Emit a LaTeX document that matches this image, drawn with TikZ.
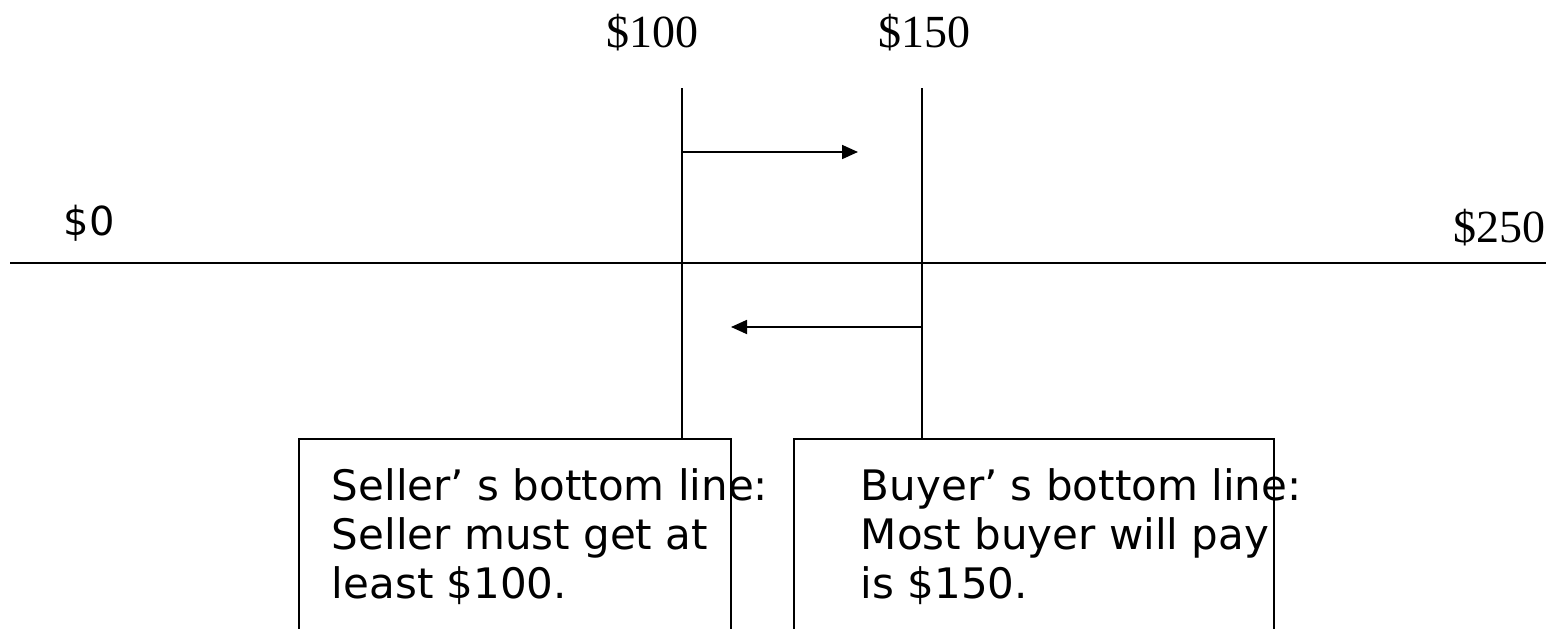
\documentclass[tikz,border=0pt]{standalone}
\usepackage{fontspec}
\setmainfont{Liberation Serif}
\newfontfamily\boxfont{DejaVu Sans}
\usepackage{tikz}
\usetikzlibrary{arrows.meta, positioning}

\tikzset{
  price/.style={font=\fontsize{46}{50}\selectfont, inner sep=0pt},
  boxtext/.style={font=\boxfont\fontsize{42}{49}\selectfont, align=left, inner sep=0pt, anchor=north west},
  limitbox/.style={draw, line width=1.8pt, minimum height=300pt, inner sep=0pt, anchor=north west},
}

\begin{document}
\begin{tikzpicture}[x=1pt,y=-1pt,line width=1.8pt,>={Triangle[length=16pt,width=14pt]}]
  \useasboundingbox (0,0) rectangle (1558,629);
  \clip (0,0) rectangle (1558,629);
%%
  % Node: prices
  \node[price, anchor=base] (p100) at (652,47) {\$100};
  \node[price, anchor=base] (p150) at (924,47) {\$150};
  \node[price, anchor=base west] (p250) at (1453,242) {\$250};
  \node[inner sep=0pt, anchor=base west, font=\boxfont\fontsize{40}{44}\selectfont] (p0) at (63,235) {\$0};
  % Node: boxes
  \node[limitbox, minimum width=432pt] (seller) at (298,438) {};
  \node[limitbox, minimum width=480pt] (buyer) at (793,438) {};
  \node[boxtext] (sellertext) at (331,468) {Seller’ s bottom line:\\Seller must get at\\least \$100.};
  \node[boxtext] (buyertext) at (860,468) {Buyer’ s bottom line:\\Most buyer will pay\\is \$150.};
  % Edge: axis
  \coordinate (left) at (10,263);
  \coordinate (right) at (1546,263);
  \draw (left) -- (right);
  % Edge: bottom lines
  \coordinate (sellertop) at (682,88);
  \coordinate (buyertop) at (922,88);
  \draw (sellertop) -- (sellertop |- seller.north);
  \draw (buyertop) -- (buyertop |- buyer.north);
  % Edge: moves
  \coordinate (upstart) at (682,152);
  \coordinate (upend) at (858,152);
  \coordinate (downstart) at (922,327);
  \coordinate (downend) at (731,327);
  \draw[->] (upstart) -- (upend);
  \draw[->] (downstart) -- (downend);
%
\end{tikzpicture}
\end{document}
